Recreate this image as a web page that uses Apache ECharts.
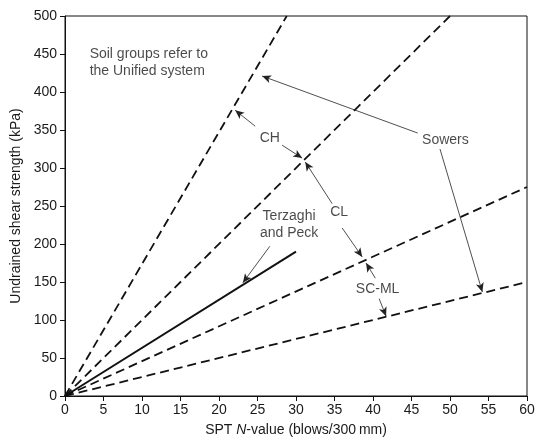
<!DOCTYPE html>
<html><head><meta charset="utf-8">
<script src="https://cdn.jsdelivr.net/npm/echarts@6/dist/echarts.min.js"></script>
<style>html,body{margin:0;padding:0;background:#fff}#c{width:535px;height:438px}</style>
</head><body><div id="c"></div>
<script>
// Tick settings
const xTicks = [0,5,10,15,20,25,30,35,40,45,50,55,60];
const yTicks = [0,50,100,150,200,250,300,350,400,450,500];
// Correlation lines [N, su]
const chLine = [[0,0],[28.8,500]];
const clLine = [[0,0],[50,500]];
const scmlUpper = [[0,0],[60,275]];
const scmlLower = [[0,0],[60,150]];
const terzaghiPeck = [[0,0],[30,190]];
// Annotation labels [N, su, text]
const labels = [
  [3.2, 439, 'Soil groups refer to\nthe Unified system', 'left'],
  [26.6, 339, 'CH', 'center'],
  [35.6, 242, 'CL', 'center'],
  [40.6, 141, 'SC-ML', 'center'],
  [49.4, 337, 'Sowers', 'center'],
  [29.1, 225, 'Terzaghi\nand Peck', 'center']
];
// Annotation arrows [from, to]
const arrows = [
  [[24.7,355],[22.1,376]],
  [[28.2,330],[30.8,313]],
  [[34.7,253],[31.2,308]],
  [[36.0,221],[38.6,183]],
  [[40.3,155],[39.1,175]],
  [[40.8,128],[41.7,105]],
  [[45.8,346],[25.6,421]],
  [[48.7,325],[54.2,137]],
  [[26.6,197],[23.1,149]]
];

const font = 'Liberation Sans, Arial, sans-serif';
const dash = {color:'#111', width:1.8, type:[9,5]};
function lineSeries(d, style){
  return {type:'line', data:d, symbol:'none', silent:true, lineStyle:style, animation:false};
}
const chart = echarts.init(document.getElementById('c'));
chart.setOption({
  animation:false,
  grid:{left:65, right:8, top:16, bottom:42, show:true, borderColor:'#111', borderWidth:1, outerBoundsMode:'none', containLabel:false},
  xAxis:{type:'value', min:0, max:60, interval:5,
    name:'{a|SPT }{i|N}{a|-value (blows/300\u2009mm)}', nameLocation:'middle', nameGap:27,
    nameTextStyle:{rich:{a:{fontFamily:font,fontSize:14,color:'#1a1a1a'}, i:{fontFamily:font,fontSize:14,fontStyle:'italic',color:'#1a1a1a'}}},
    axisLine:{lineStyle:{color:'#111'}}, axisTick:{length:5, lineStyle:{color:'#111'}},
    axisLabel:{fontFamily:font, fontSize:14, color:'#1a1a1a', margin:7}, splitLine:{show:false}},
  yAxis:{type:'value', min:0, max:500, interval:50,
    name:'Undrained shear strength (kPa)', nameLocation:'middle', nameGap:40,
    nameTextStyle:{fontFamily:font, fontSize:14, color:'#1a1a1a'},
    axisLine:{show:true, lineStyle:{color:'#111'}}, axisTick:{show:true, length:5, lineStyle:{color:'#111'}},
    axisLabel:{fontFamily:font, fontSize:14, color:'#1a1a1a', margin:8}, splitLine:{show:false}},
  series:[
    lineSeries(chLine, dash),
    lineSeries(clLine, dash),
    lineSeries(scmlUpper, dash),
    lineSeries(scmlLower, dash),
    lineSeries(terzaghiPeck, {color:'#111', width:2, type:'solid'}),
    {type:'scatter', data:labels.map(l=>({value:[l[0],l[1]], name:l[2],
        label:{align:l[3]}})), symbolSize:0, silent:true,
      label:{show:true, position:'inside', formatter:p=>p.name, fontFamily:font, fontSize:14, color:'#1a1a1a', lineHeight:17},
      markLine:{silent:true, symbol:['none','arrow'], symbolSize:[6,9], label:{show:false},
        lineStyle:{color:'#222', width:0.8, type:'solid'},
        data:arrows.map(a=>[{coord:a[0]},{coord:a[1]}])}}
  ]
});
</script></body></html>
